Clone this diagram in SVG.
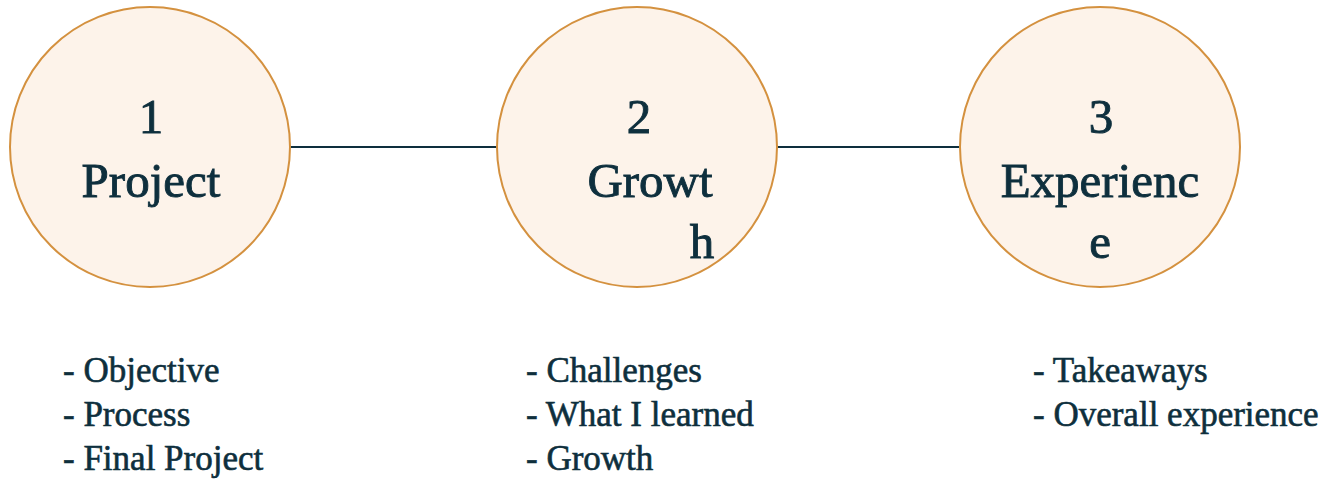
<svg xmlns="http://www.w3.org/2000/svg" width="1330" height="482" viewBox="0 0 1330 482">
  <style>
    .node circle { fill: #fdf3ea; stroke: #d4913f; stroke-width: 2; }
    .title { font-family: "Liberation Serif", "DejaVu Serif", serif; font-size: 49px; fill: #0e2f3d; stroke: #0e2f3d; stroke-width: 0.9; text-anchor: middle; }
    .item { font-family: "Liberation Serif", "DejaVu Serif", serif; font-size: 35px; fill: #0e2f3d; stroke: #0e2f3d; stroke-width: 0.6; }
    .link { stroke: #0e2f3d; stroke-width: 2; fill: none; }
  </style>
  <rect width="1330" height="482" fill="#ffffff"/>

  <!-- connectors between stages -->
  <g id="connectors">
    <line class="link" x1="290" y1="147" x2="497" y2="147"/>
    <line class="link" x1="777" y1="147" x2="959" y2="147"/>
  </g>

  <!-- stage 1 -->
  <g id="node-project" class="node">
    <circle cx="150" cy="147" r="140"/>
    <text class="title" x="151" y="133">1</text>
    <text class="title" x="151" y="197">Project</text>
  </g>

  <!-- stage 2 -->
  <g id="node-growth" class="node">
    <circle cx="637" cy="147" r="140"/>
    <text class="title" x="639" y="133">2</text>
    <text class="title" x="650" y="197">Growt</text>
    <text class="title" x="702" y="258">h</text>
  </g>

  <!-- stage 3 -->
  <g id="node-experience" class="node">
    <circle cx="1100" cy="147" r="140"/>
    <text class="title" x="1101" y="133">3</text>
    <text class="title" x="1100" y="197">Experienc</text>
    <text class="title" x="1100" y="258">e</text>
  </g>

  <!-- detail lists under each stage -->
  <g id="list-project">
    <text class="item" x="63" y="382">- Objective</text>
    <text class="item" x="63" y="426">- Process</text>
    <text class="item" x="63" y="470">- Final Project</text>
  </g>
  <g id="list-growth">
    <text class="item" x="526" y="382">- Challenges</text>
    <text class="item" x="526" y="426">- What I learned</text>
    <text class="item" x="526" y="470">- Growth</text>
  </g>
  <g id="list-experience">
    <text class="item" x="1033" y="382">- Takeaways</text>
    <text class="item" x="1033" y="426">- Overall experience</text>
  </g>
</svg>
